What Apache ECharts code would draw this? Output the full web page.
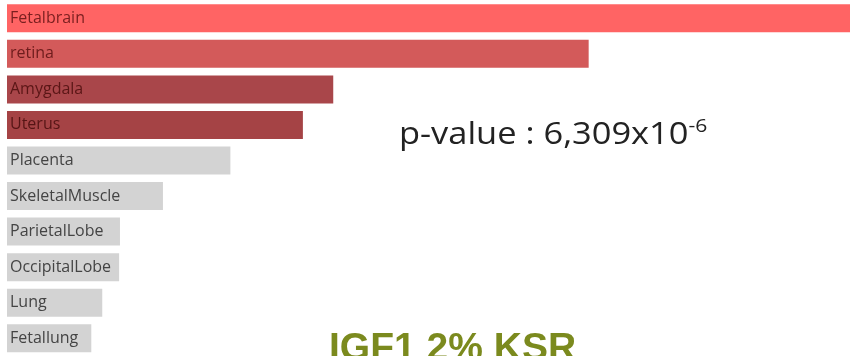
<!DOCTYPE html>
<html>
<head>
<meta charset="utf-8">
<script src="https://cdn.jsdelivr.net/npm/echarts@6/dist/echarts.min.js"></script>
<style>
  html, body { margin: 0; padding: 0; background: #ffffff; }
  #chart { width: 850px; height: 356px; }
</style>
</head>
<body>
<div id="chart"></div>
<script>
// Tissues ranked by relative expression (top to bottom)
const tissues = ['Fetalbrain', 'retina', 'Amygdala', 'Uterus', 'Placenta',
  'SkeletalMuscle', 'ParietalLobe', 'OccipitalLobe', 'Lung', 'Fetallung'];
const expression = [100, 69.0, 38.7, 35.1, 26.5, 18.5, 13.4, 13.3, 11.3, 10.0];
const barColors = ['#ff6464', '#d35a5a', '#a9464a', '#a54345', '#d3d3d3',
  '#d3d3d3', '#d3d3d3', '#d3d3d3', '#d3d3d3', '#d3d3d3'];
const labelColors = ['#7a1f1f', '#6e1c1c', '#5a1616', '#561515', '#444444',
  '#444444', '#444444', '#444444', '#444444', '#444444'];
const pValueText = 'p-value : 6,309x10';
const pValueExp = '-6';
const titleText = 'IGF1 2% KSR';

const chart = echarts.init(document.getElementById('chart'), null, { renderer: 'canvas' });

chart.setOption({
  animation: false,
  backgroundColor: '#ffffff',
  grid: { left: 7, top: 0.5, width: 843, height: 358, containLabel: false },
  xAxis: {
    type: 'value', min: 0, max: 100,
    show: false
  },
  yAxis: {
    type: 'category', data: tissues, inverse: true,
    show: false
  },
  series: [{
    type: 'bar',
    barWidth: 28,
    data: expression.map((v, i) => ({
      value: v,
      itemStyle: { color: barColors[i] },
      label: { color: labelColors[i] }
    })),
    label: {
      show: true,
      position: 'insideLeft',
      distance: 3,
      formatter: (p) => tissues[p.dataIndex],
      fontFamily: 'Open Sans',
      fontSize: 16
    }
  }],
  graphic: [
    {
      type: 'text',
      x: 399,
      y: 117,
      scaleX: 1.11,
      style: {
        text: '{a|' + pValueText + '}{b|' + pValueExp + '}',
        rich: {
          a: { fontFamily: 'Open Sans', fontSize: 31, fill: '#222222', color: '#222222' },
          b: { fontFamily: 'Open Sans', fontSize: 19, fill: '#222222', color: '#222222', verticalAlign: 'top', padding: [0, 0, 18, 0] }
        }
      }
    },
    {
      type: 'text',
      left: 329,
      top: 330,
      style: {
        text: titleText,
        fontFamily: 'Liberation Sans',
        fontWeight: 'bold',
        fontSize: 39,
        fill: '#7b8a1e'
      }
    }
  ]
});
</script>
</body>
</html>
